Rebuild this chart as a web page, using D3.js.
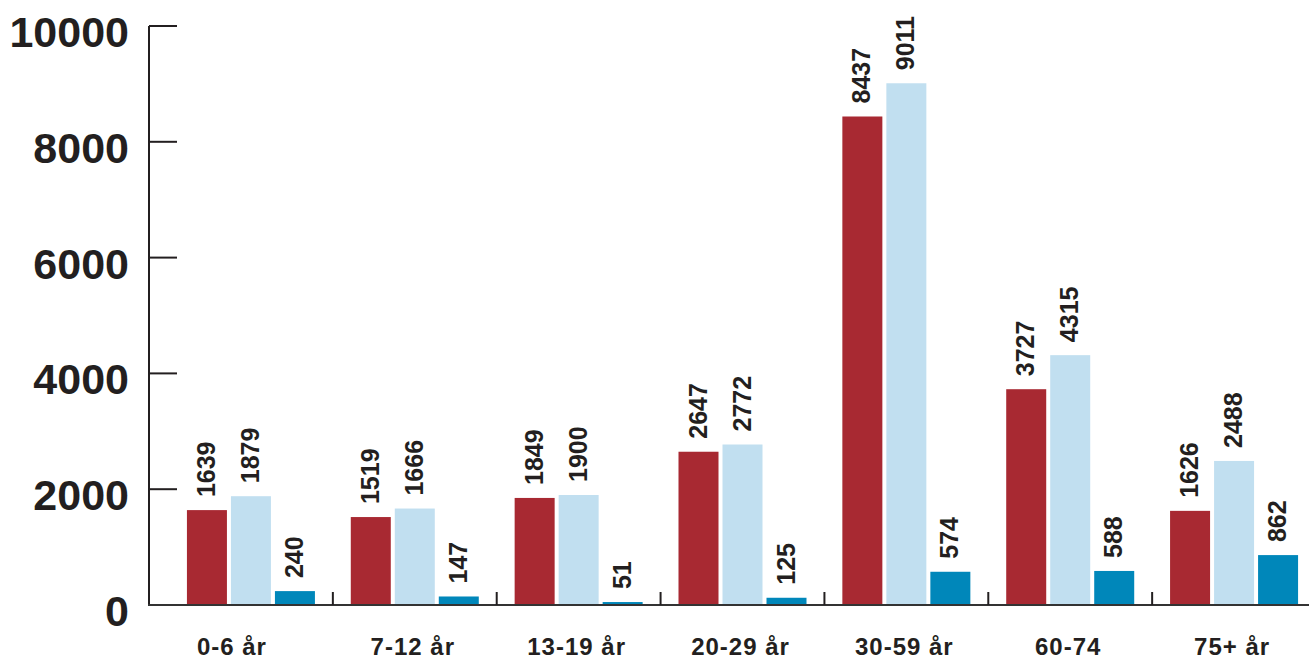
<!DOCTYPE html>
<html>
<head>
<meta charset="utf-8">
<script src="https://cdn.jsdelivr.net/npm/d3@7"></script>
<style>
  body { margin: 0; background: #fff; }
  svg text { font-family: "Liberation Sans", Arial, sans-serif; font-weight: bold; fill: #231f20; }
</style>
</head>
<body>
<svg id="chart" width="1309" height="660"></svg>
<script>
// data
var categories = ["0-6 år", "7-12 år", "13-19 år", "20-29 år", "30-59 år", "60-74", "75+ år"]
var series1 = [1639, 1519, 1849, 2647, 8437, 3727, 1626]   // dark red
var series2 = [1879, 1666, 1900, 2772, 9011, 4315, 2488]   // light blue
var series3 = [240, 147, 51, 125, 574, 588, 862]           // blue
var yTicks = [0, 2000, 4000, 6000, 8000, 10000]

var colors = ["#a82932", "#c1dff0", "#0087ba"]
var svg = d3.select("#chart")

var y = d3.scaleLinear().domain([0, 10000]).range([605, 26])
var x = d3.scaleBand().domain(categories).range([169, 1316]).padding(0)

// bars inside each group
var groupWidth = 128
var inner = d3.scaleBand().domain([0, 1, 2]).range([0, groupWidth]).paddingInner(4 / 44).paddingOuter(0)

var rows = []
categories.forEach(function(c, i) {
  [series1, series2, series3].forEach(function(s, j) {
    rows.push({ cat: c, k: j, v: s[i] })
  })
})

function barX(d) {
  return x(d.cat) + (x.bandwidth() - groupWidth) / 2 + inner(d.k)
}

svg.selectAll("rect.bar")
  .data(rows)
  .enter().append("rect")
  .attr("class", "bar")
  .attr("x", barX)
  .attr("y", function(d) { return y(d.v) })
  .attr("width", inner.bandwidth())
  .attr("height", function(d) { return y(0) - y(d.v) })
  .style("fill", function(d) { return colors[d.k] })

// value labels, rotated
svg.selectAll("text.val")
  .data(rows)
  .enter().append("text")
  .attr("class", "val")
  .attr("transform", function(d) {
    return "translate(" + (barX(d) + inner.bandwidth() / 2 - 1) + "," + (y(d.v) - 13) + ") rotate(-90)"
  })
  .attr("dy", "0.36em")
  .style("font-size", "25px")
  .text(function(d) { return d.v })

// y axis
svg.append("line")
  .attr("x1", 149).attr("x2", 149)
  .attr("y1", y(10000)).attr("y2", y(0))
  .style("stroke", "#231f20").style("stroke-width", 2)

svg.selectAll("line.ytick")
  .data(yTicks)
  .enter().append("line")
  .attr("class", "ytick")
  .attr("x1", 149).attr("x2", 177)
  .attr("y1", function(d) { return y(d) }).attr("y2", function(d) { return y(d) })
  .style("stroke", "#231f20").style("stroke-width", 2)

svg.selectAll("text.ylab")
  .data(yTicks)
  .enter().append("text")
  .attr("class", "ylab")
  .attr("x", 129)
  .attr("y", function(d) { return y(d) + 21 })
  .attr("text-anchor", "end")
  .style("font-size", "43px")
  .text(function(d) { return d })

// x axis
svg.append("line")
  .attr("x1", 148).attr("x2", 1309)
  .attr("y1", 605).attr("y2", 605)
  .style("stroke", "#333").style("stroke-width", 2)

svg.selectAll("line.xtick")
  .data(categories.slice(1))
  .enter().append("line")
  .attr("class", "xtick")
  .attr("x1", function(d) { return x(d) }).attr("x2", function(d) { return x(d) })
  .attr("y1", 592).attr("y2", 605)
  .style("stroke", "#231f20").style("stroke-width", 2)

// first label sits a bit left of its group in the original
svg.selectAll("text.xlab")
  .data(categories)
  .enter().append("text")
  .attr("class", "xlab")
  .attr("x", function(d, i) { return x(d) + x.bandwidth() / 2 - (i == 0 ? 19 : 2) })
  .attr("y", 655)
  .attr("text-anchor", "middle")
  .style("font-size", "24px")
  .style("letter-spacing", "1px")
  .text(function(d) { return d })
</script>
</body>
</html>
